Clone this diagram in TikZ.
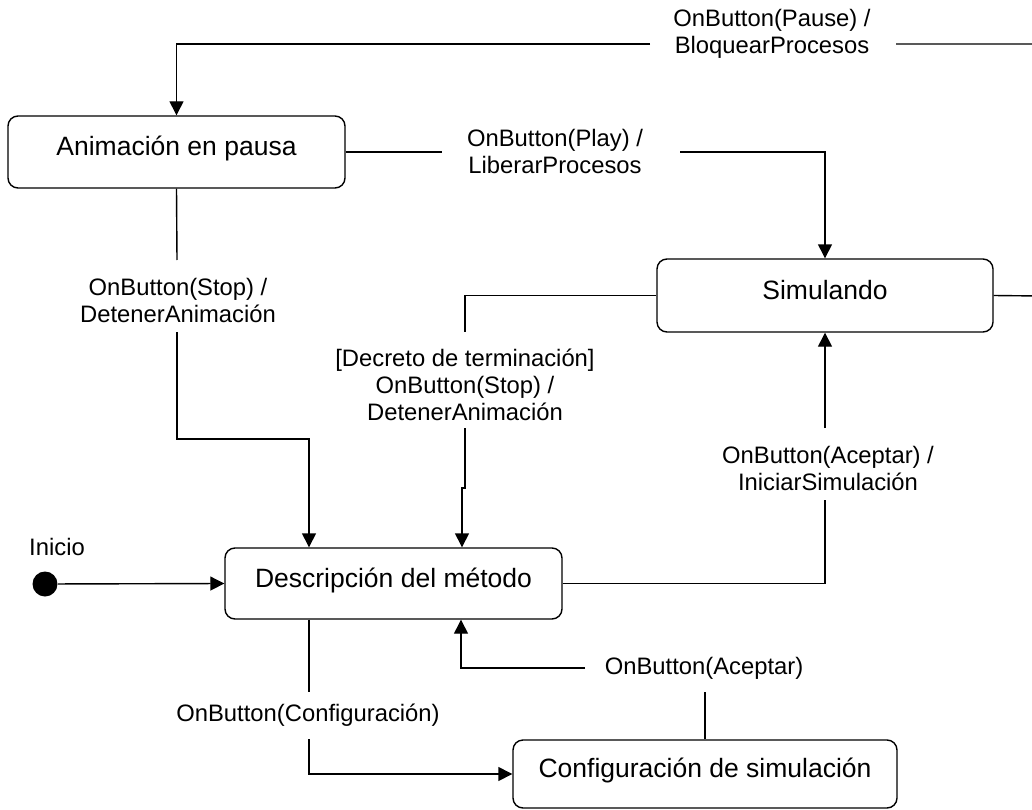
\documentclass[tikz,border=0pt]{standalone}
\usepackage{fontspec}
\setmainfont{Liberation Sans}
\usetikzlibrary{arrows.meta}
\begin{document}
\begin{tikzpicture}[x=1pt,y=-1pt,
  line width=1.4pt,
  statebox/.style={draw, rounded corners=10pt, inner sep=0pt},
  statetext/.style={font=\fontsize{26.5}{30}\selectfont, text height=19pt, text depth=0pt},
  evt/.style={font=\fontsize{23.8}{27}\selectfont, align=center, inner sep=0pt},
  tr/.style={-{Triangle[length=14pt,width=14pt]}},
  seg/.style={-}]
\useasboundingbox (0,0) rectangle (1032,810);
\clip (0,0) rectangle (1032,810);

% states
\node[statebox, minimum width=337pt, minimum height=72pt,
      label={[statetext, yshift=6pt]center:Animación en pausa}] (pausa) at (176.5,152) {};
\node[statebox, minimum width=336pt, minimum height=73pt,
      label={[statetext, yshift=6pt]center:Simulando}] (sim) at (825,295.5) {};
\node[statebox, minimum width=337pt, minimum height=71pt,
      label={[statetext, yshift=6pt]center:Descripción del método}] (desc) at (393.5,583.5) {};
\node[statebox, minimum width=384pt, minimum height=68pt,
      label={[statetext, yshift=6pt]center:Configuración de simulación}] (conf) at (705,774) {};

% initial pseudo-state
\node[circle, fill=black, minimum size=25pt, inner sep=0pt] (ini) at (45,584) {};
\node[evt] (inilbl) at (57,547) {Inicio};

% transition labels
\node[evt] (lpause) at (772,33.5) {OnButton(Pause) /\\BloquearProcesos};
\node[evt] (lplay) at (555,151.5) {OnButton(Play) /\\LiberarProcesos};
\node[evt] (lstop) at (178,300) {OnButton(Stop) /\\DetenerAnimación};
\node[evt] (lterm) at (465,385) {[Decreto de terminación]\\OnButton(Stop) /\\DetenerAnimación};
\node[evt] (lini) at (828,468) {OnButton(Aceptar) /\\IniciarSimulación};
\node[evt] (lcfg) at (308,715) {OnButton(Configuración)};
\node[evt] (lacc) at (704,668) {OnButton(Aceptar)};

% break points where the lines stop around their labels
\coordinate (pA) at (896,44);   \coordinate (pB) at (650,44);
\coordinate (qA) at (442,152);  \coordinate (qB) at (680,152);
\coordinate (sA) at (177,260);  \coordinate (sB) at (177,332);
\coordinate (tA) at (465,332);  \coordinate (tB) at (465,428);
\coordinate (uA) at (825,500);  \coordinate (uB) at (825,428);
\coordinate (cA) at (309,692);  \coordinate (cB) at (309,739);
\coordinate (aA) at (705,692);  \coordinate (aB) at (585,668);

% Simulando -> Animación en pausa
\draw[seg] (sim.east) -- (1040,296) |- (pA);
\draw[tr] (pB) -| (pausa.north);
% Animación en pausa -> Simulando
\draw[seg] (pausa.east) -- (qA);
\draw[tr] (qB) -| (sim.north);
% Animación en pausa -> Descripción del método
\draw[seg] (pausa.south) -- (sA);
\draw[tr] (sB) |- (309,439) -- ([xshift=-84.5pt]desc.north);
% Simulando -> Descripción del método
\draw[seg] (sim.west) -| (tA);
\draw[tr] (tB) -- (465,488) -- (462,488) -- ([xshift=68.5pt]desc.north);
% Descripción del método -> Simulando
\draw[seg] (desc.east) -| (uA);
\draw[tr] (uB) -- (sim.south);
% initial transition
\draw[tr] (ini) -- (desc.west);
% Descripción del método -> Configuración de simulación
\draw[seg] ([xshift=-84.5pt]desc.south) -- (cA);
\draw[tr] (cB) |- (conf.west);
% Configuración de simulación -> Descripción del método
\draw[seg] (conf.north) -- (aA);
\draw[tr] (aB) -| ([xshift=67.5pt]desc.south);
\end{tikzpicture}
\end{document}
